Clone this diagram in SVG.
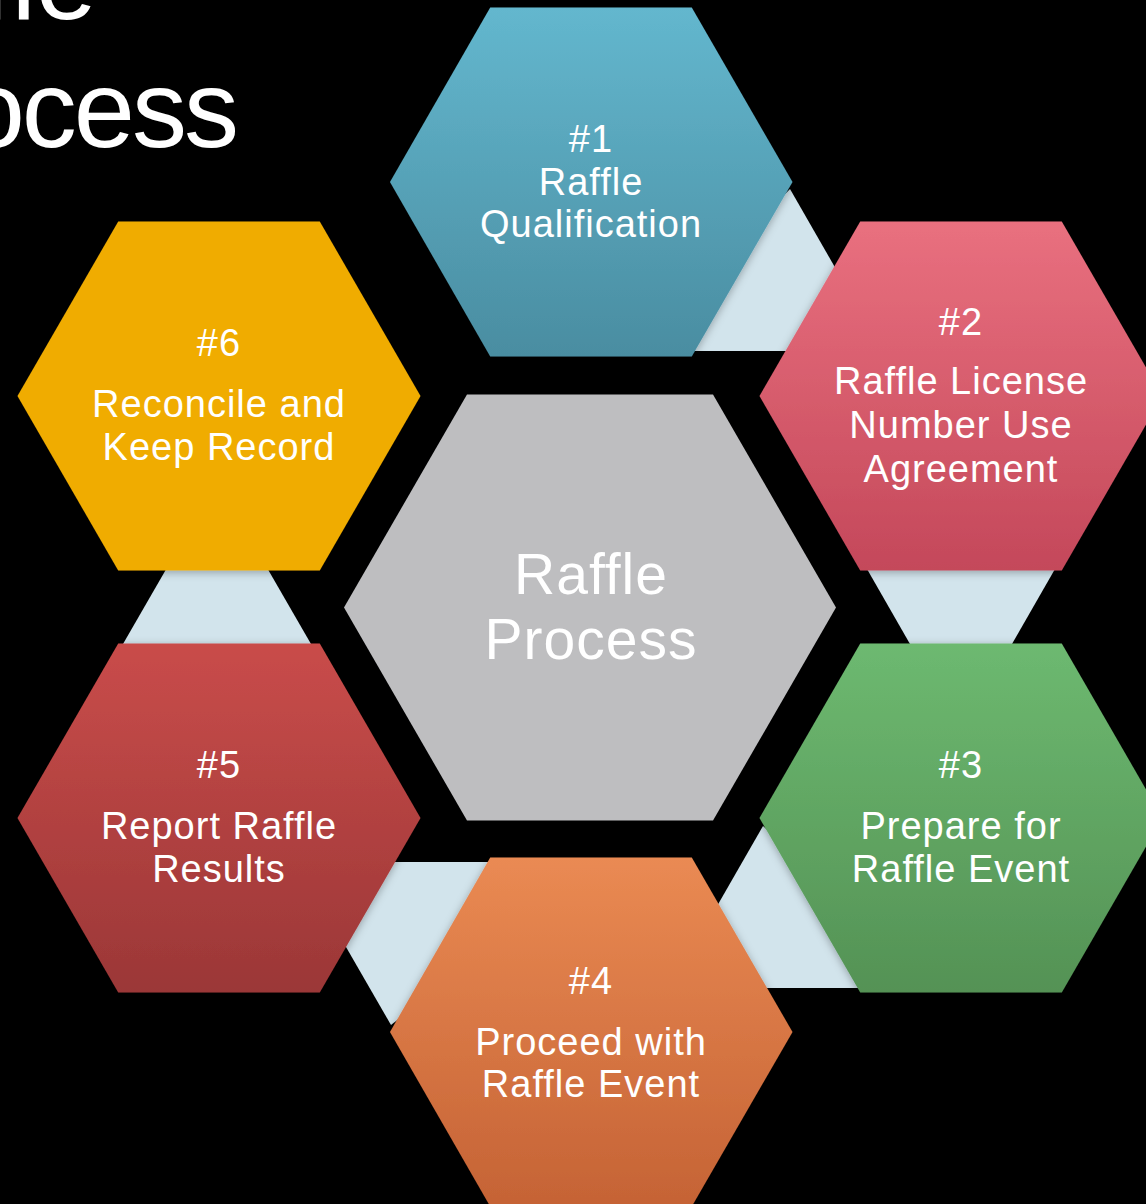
<svg xmlns="http://www.w3.org/2000/svg" width="1146" height="1204" viewBox="0 0 1146 1204">
  <style>
    .lbl { font-family: "Liberation Sans", Arial, sans-serif; font-size: 38px; letter-spacing: 1px; fill: #ffffff; text-anchor: middle; }
    .ctr { font-family: "Liberation Sans", Arial, sans-serif; font-size: 57px; letter-spacing: 1px; fill: #ffffff; text-anchor: middle; }
    .title { font-family: "Liberation Sans", Arial, sans-serif; font-size: 110px; fill: #ffffff; text-anchor: end; }
    .tri { fill: #d2e4ec; }
    .hex { filter: url(#shadow); }
  </style>
  <defs>
    <filter id="shadow" x="-10%" y="-10%" width="120%" height="125%">
      <feDropShadow dx="0" dy="2" stdDeviation="4" flood-color="#000000" flood-opacity="0.3"/>
    </filter>
    <linearGradient id="g1" x1="0" y1="0" x2="0" y2="1">
      <stop offset="0" stop-color="#63b7ce"/>
      <stop offset="1" stop-color="#4a8da1"/>
    </linearGradient>
    <linearGradient id="g2" x1="0" y1="0" x2="0" y2="1">
      <stop offset="0" stop-color="#e9707f"/>
      <stop offset="1" stop-color="#c4485a"/>
    </linearGradient>
    <linearGradient id="g3" x1="0" y1="0" x2="0" y2="1">
      <stop offset="0" stop-color="#6db970"/>
      <stop offset="1" stop-color="#549255"/>
    </linearGradient>
    <linearGradient id="g4" x1="0" y1="0" x2="0" y2="1">
      <stop offset="0" stop-color="#ea8a53"/>
      <stop offset="1" stop-color="#c56335"/>
    </linearGradient>
    <linearGradient id="g5" x1="0" y1="0" x2="0" y2="1">
      <stop offset="0" stop-color="#c94c4a"/>
      <stop offset="1" stop-color="#9b3737"/>
    </linearGradient>
  </defs>

  <rect x="0" y="0" width="1146" height="1204" fill="#000000"/>

  <g id="title">
    <text class="title" x="97" y="19">Raffle</text>
    <text class="title" x="236" y="147" letter-spacing="-3">Process</text>
  </g>

  <g id="connectors">
    <polygon class="tri" points="790,189 883,351 680,351 760,220"/>
    <polygon class="tri" points="867,569 1055,569 961,733"/>
    <polygon class="tri" points="763,826 800,860 875,988 670,988"/>
    <polygon class="tri" points="297,862 500,862 410,1010 391,1025"/>
    <polygon class="tri" points="217,481 311,644 123,644"/>
  </g>

  <g id="node-center">
    <polygon points="344,607.5 467,394.5 713,394.5 836,607.5 713,820.5 467,820.5" fill="#bebec0"/>
    <text class="ctr" x="591" y="594">Raffle</text>
    <text class="ctr" x="591" y="659">Process</text>
  </g>

  <g id="node-1">
    <polygon class="hex" points="390,182 490.25,7.5 691.75,7.5 792.5,182 691.75,356.5 490.25,356.5" fill="url(#g1)"/>
    <text class="lbl" x="591" y="152">#1</text>
    <text class="lbl" x="591" y="195">Raffle</text>
    <text class="lbl" x="591" y="237">Qualification</text>
  </g>

  <g id="node-2">
    <polygon class="hex" points="759.5,396 860.25,221.5 1061.75,221.5 1162.5,396 1061.75,570.5 860.25,570.5" fill="url(#g2)"/>
    <text class="lbl" x="961" y="335">#2</text>
    <text class="lbl" x="961" y="394">Raffle License</text>
    <text class="lbl" x="961" y="438">Number Use</text>
    <text class="lbl" x="961" y="482">Agreement</text>
  </g>

  <g id="node-3">
    <polygon class="hex" points="759.5,818 860.25,643.5 1061.75,643.5 1162.5,818 1061.75,992.5 860.25,992.5" fill="url(#g3)"/>
    <text class="lbl" x="961" y="778">#3</text>
    <text class="lbl" x="961" y="839">Prepare for</text>
    <text class="lbl" x="961" y="882">Raffle Event</text>
  </g>

  <g id="node-4">
    <polygon class="hex" points="390,1032 490.25,857.5 691.75,857.5 792.5,1032 691.75,1206.5 490.25,1206.5" fill="url(#g4)"/>
    <text class="lbl" x="591" y="994">#4</text>
    <text class="lbl" x="591" y="1055">Proceed with</text>
    <text class="lbl" x="591" y="1097">Raffle Event</text>
  </g>

  <g id="node-5">
    <polygon class="hex" points="17.5,818 118.25,643.5 319.75,643.5 420.5,818 319.75,992.5 118.25,992.5" fill="url(#g5)"/>
    <text class="lbl" x="219" y="778">#5</text>
    <text class="lbl" x="219" y="839">Report Raffle</text>
    <text class="lbl" x="219" y="882">Results</text>
  </g>

  <g id="node-6">
    <polygon class="hex" points="17.5,396 118.25,221.5 319.75,221.5 420.5,396 319.75,570.5 118.25,570.5" fill="#f0ac00"/>
    <text class="lbl" x="219" y="356">#6</text>
    <text class="lbl" x="219" y="417">Reconcile and</text>
    <text class="lbl" x="219" y="460">Keep Record</text>
  </g>
</svg>
